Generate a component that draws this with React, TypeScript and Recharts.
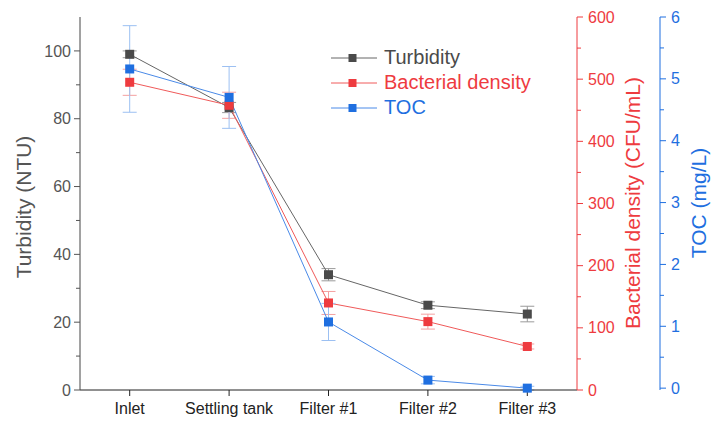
import React from "react";
import {
  ComposedChart,
  Line,
  XAxis,
  YAxis,
  ErrorBar,
  Legend,
} from "recharts";

const FONT = "Arial, 'Liberation Sans', sans-serif";

const categories = ["Inlet", "Settling tank", "Filter #1", "Filter #2", "Filter #3"];

const turbidity = [99, 83.3, 34, 25, 22.4];
const turbidityErr = [1.0, 1.5, 1.8, 1.0, 2.3];

const bacteria = [495, 458, 140, 110, 70];
const bacteriaErr = [21, 21, 18.5, 12, 4];

const toc = [5.16, 4.7, 1.07, 0.13, 0.0];
const tocErr = [0.7, 0.5, 0.3, 0.06, 0.03];

const leftTicks = [0, 10, 20, 30, 40, 50, 60, 70, 80, 90, 100];
const redTicks = [0, 50, 100, 150, 200, 250, 300, 350, 400, 450, 500, 550, 600];
const blueTicks = [0, 0.5, 1, 1.5, 2, 2.5, 3, 3.5, 4, 4.5, 5, 5.5, 6];

const GRAY = "#4a4a4a";
const RED = "#ee3b3f";
const BLUE = "#1f6fe0";

const data = categories.map((name, i) => ({
  name,
  turbidity: turbidity[i],
  turbidityErr: turbidityErr[i],
  bacteria: bacteria[i],
  bacteriaErr: bacteriaErr[i],
  toc: toc[i],
  tocErr: tocErr[i],
}));

const series = [
  { key: "turbidity", label: "Turbidity", color: GRAY, line: "#666666" },
  { key: "bacteria", label: "Bacterial density", color: RED, line: "#f05a5a" },
  { key: "toc", label: "TOC", color: BLUE, line: "#4a8ae8" },
];

function makeYTick(side: "left" | "right", color: string, isMajor: (v: number) => boolean) {
  return (props: any) => {
    const { x, y, payload } = props;
    const major = isMajor(payload.value);
    const len = major ? 6 : 4;
    const dir = side === "left" ? -1 : 1;
    return (
      <g>
        <line x1={x} x2={x + dir * len} y1={y} y2={y} stroke={color} strokeWidth={1} />
        {major && (
          <text
            x={side === "left" ? x - 9 : x + 11}
            y={y}
            dy="0.35em"
            textAnchor={side === "left" ? "end" : "start"}
            fill={color}
            fontSize={16}
            fontFamily={FONT}
          >
            {payload.value}
          </text>
        )}
      </g>
    );
  };
}

const XTick = (props: any) => {
  const { x, y, payload } = props;
  return (
    <text x={x} y={y + 18} textAnchor="middle" fill="#222" fontSize={16} fontFamily={FONT}>
      {payload.value}
    </text>
  );
};

function squareDot(color: string) {
  return (p: any) => {
    if (p.cx == null || p.cy == null) return <g key={p.index} />;
    return (
      <rect
        key={p.index}
        x={p.cx - 4.5}
        y={p.cy - 4.5}
        width={9}
        height={9}
        fill={color}
      />
    );
  };
}

function axisLabel(text: string, cx: number, cy: number, color: string) {
  return () => (
    <text
      transform={`translate(${cx},${cy}) rotate(-90)`}
      textAnchor="middle"
      fill={color}
      fontSize={21}
      fontFamily={FONT}
    >
      {text}
    </text>
  );
}

const LegendBox = () => (
  <div style={{ fontFamily: FONT }}>
    {series.map((s) => (
      <div key={s.key} style={{ display: "flex", alignItems: "center", height: 25 }}>
        <svg width={46} height={12} style={{ marginRight: 7 }}>
          <line x1={0} x2={46} y1={6} y2={6} stroke={s.line} strokeWidth={1} />
          <rect x={17.5} y={2} width={8} height={8} fill={s.color} />
        </svg>
        <span style={{ color: s.color, fontSize: 20, lineHeight: "25px" }}>{s.label}</span>
      </div>
    ))}
  </div>
);

const PAD = { left: 49.7, right: 49.7 };

export default function App() {
  return (
    <div style={{ position: "absolute", left: 0, top: 0, background: "#fff" }}>
      <ComposedChart
        width={714}
        height={421}
        data={data}
        margin={{ top: 17, right: 0, bottom: 0, left: 0 }}
      >
        <XAxis
          dataKey="name"
          height={31}
          padding={PAD}
          tick={<XTick />}
          tickSize={6}
          tickMargin={0}
          axisLine={{ stroke: "#222" }}
          tickLine={{ stroke: "#222" }}
          interval={0}
        />
        <XAxis
          xAxisId="top"
          dataKey="name"
          orientation="top"
          height={0}
          padding={PAD}
          tick={false}
          tickLine={false}
          axisLine={{ stroke: "#222" }}
        />
        <YAxis
          yAxisId="left"
          width={80}
          domain={[0, 110]}
          ticks={leftTicks}
          tick={makeYTick("left", "#555", (v) => v % 20 === 0)}
          tickLine={false}
          tickSize={0}
          tickMargin={0}
          axisLine={{ stroke: "#444" }}
          label={{ content: axisLabel("Turbidity (NTU)", 31, 207, "#555") }}
        />
        <YAxis
          yAxisId="bact"
          orientation="right"
          width={83}
          domain={[0, 600]}
          ticks={redTicks}
          tick={makeYTick("right", RED, (v) => v % 100 === 0)}
          tickLine={false}
          tickSize={0}
          tickMargin={0}
          axisLine={{ stroke: RED }}
          label={{ content: axisLabel("Bacterial density (CFU/mL)", 640, 203, RED) }}
        />
        <YAxis
          yAxisId="toc"
          orientation="right"
          width={54}
          domain={[0, 6]}
          ticks={blueTicks}
          tick={makeYTick("right", BLUE, (v) => Number.isInteger(v))}
          tickLine={false}
          tickSize={0}
          tickMargin={0}
          axisLine={{ stroke: BLUE }}
          label={{ content: axisLabel("TOC (mg/L)", 706, 203, BLUE) }}
        />
        <Legend
          content={<LegendBox />}
          wrapperStyle={{ position: "absolute", left: 331, top: 45, width: 260, height: 0 }}
        />
        <Line
          yAxisId="left"
          dataKey="turbidity"
          stroke="#666666"
          strokeWidth={1}
          dot={squareDot(GRAY)}
          activeDot={false}
          isAnimationActive={false}
        >
          <ErrorBar dataKey="turbidityErr" width={7} stroke="#9a9a9a" strokeWidth={1} />
        </Line>
        <Line
          yAxisId="bact"
          dataKey="bacteria"
          stroke="#f05a5a"
          strokeWidth={1}
          dot={squareDot(RED)}
          activeDot={false}
          isAnimationActive={false}
        >
          <ErrorBar dataKey="bacteriaErr" width={7} stroke="#f4a0a0" strokeWidth={1} />
        </Line>
        <Line
          yAxisId="toc"
          dataKey="toc"
          stroke="#4a8ae8"
          strokeWidth={1}
          dot={squareDot(BLUE)}
          activeDot={false}
          isAnimationActive={false}
        >
          <ErrorBar dataKey="tocErr" width={7} stroke="#9cc0f2" strokeWidth={1} />
        </Line>
      </ComposedChart>
    </div>
  );
}
